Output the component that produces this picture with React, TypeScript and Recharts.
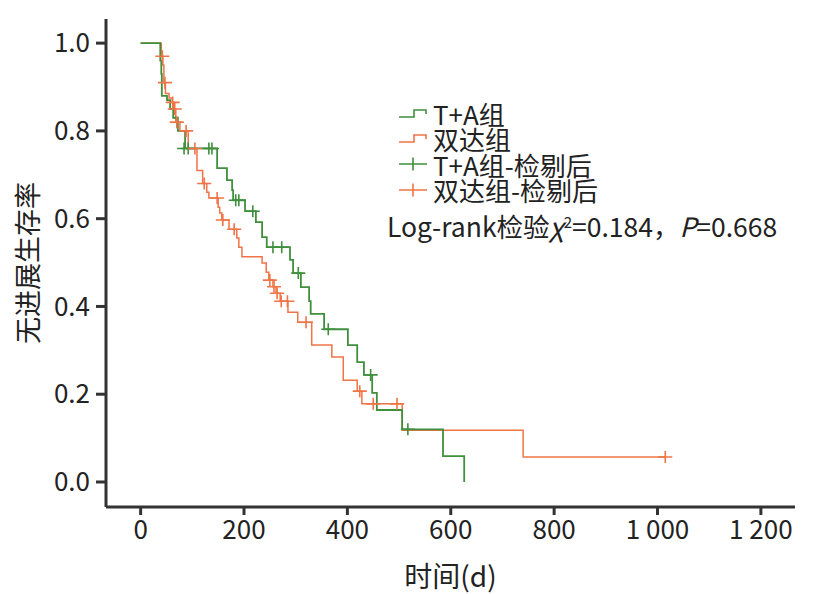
import React from 'react';
import { ComposedChart, Line, Scatter, XAxis, YAxis, Legend } from 'recharts';

const FONT = '"Noto Sans CJK SC", "Noto Sans", sans-serif';
const GREEN = '#3f8f3c';
const ORANGE = '#f07447';
const AXIS = '#333333';

// T+A组 KM steps
const greenTimes = [0, 38, 40, 41, 51, 57, 63, 72, 86, 148, 167, 177, 179, 202, 223, 235, 244, 289, 295, 310, 326, 329, 355, 401, 419, 432, 448, 457, 506, 585, 626];
const greenSurv = [1, 0.96, 0.93, 0.88, 0.87, 0.85, 0.83, 0.8, 0.76, 0.715, 0.688, 0.665, 0.642, 0.617, 0.592, 0.558, 0.535, 0.506, 0.476, 0.444, 0.412, 0.383, 0.348, 0.312, 0.273, 0.244, 0.203, 0.164, 0.12, 0.059, 0];
// T+A组 censored
const greenCensorTimes = [84, 92, 132, 138, 184, 190, 217, 256, 273, 305, 363, 445, 517];
const greenCensorSurv = [0.76, 0.76, 0.76, 0.76, 0.642, 0.642, 0.617, 0.535, 0.535, 0.476, 0.348, 0.244, 0.12];

// 双达组 KM steps
const orangeTimes = [0, 40, 43, 45, 48, 55, 61, 64, 68, 76, 92, 109, 120, 128, 132, 150, 153, 157, 171, 186, 190, 196, 235, 243, 248, 256, 262, 270, 285, 304, 331, 370, 392, 419, 428, 506, 740, 1015];
const orangeSurv = [1, 0.97, 0.95, 0.91, 0.885, 0.875, 0.865, 0.85, 0.82, 0.8, 0.76, 0.71, 0.68, 0.66, 0.647, 0.626, 0.613, 0.597, 0.576, 0.556, 0.535, 0.513, 0.499, 0.478, 0.46, 0.445, 0.43, 0.412, 0.387, 0.364, 0.312, 0.285, 0.232, 0.207, 0.178, 0.118, 0.057, 0.057];
// 双达组 censored
const orangeCensorTimes = [42, 47, 62, 66, 70, 88, 105, 123, 148, 159, 181, 250, 258, 264, 272, 284, 320, 424, 450, 496, 1015];
const orangeCensorSurv = [0.97, 0.91, 0.865, 0.85, 0.82, 0.8, 0.76, 0.68, 0.647, 0.597, 0.576, 0.46, 0.445, 0.43, 0.412, 0.412, 0.364, 0.207, 0.178, 0.178, 0.057];

const xTicks = [0, 200, 400, 600, 800, 1000, 1200];
const yTicks = [0, 0.2, 0.4, 0.6, 0.8, 1.0];

const legendNames = ['T+A组', '双达组', 'T+A组-检剔后', '双达组-检剔后'];
const statText = { prefix: 'Log-rank检验', chi: 'χ', rest: '=0.184，', p: 'P', pval: '=0.668' };

const zip = (t: number[], s: number[]) => t.map((v, i) => ({ t: v, s: s[i] }));
const greenData = zip(greenTimes, greenSurv);
const orangeData = zip(orangeTimes, orangeSurv);
const greenCensor = zip(greenCensorTimes, greenCensorSurv);
const orangeCensor = zip(orangeCensorTimes, orangeCensorSurv);

const makeCross = (color: string) => (props: any) => {
  const { cx, cy } = props;
  if (cx == null || cy == null) return <g />;
  return (
    <path
      d={`M${cx - 7},${cy}H${cx + 7}M${cx},${cy - 6}V${cy + 6}`}
      stroke={color}
      strokeWidth={1.6}
      fill="none"
    />
  );
};

const fmtX = (v: number) => (v >= 1000 ? `${Math.floor(v / 1000)} ${String(v % 1000).padStart(3, '0')}` : String(v));

const StepIcon = ({ color }: { color: string }) => (
  <svg width={30} height={14} style={{ display: 'block' }}>
    <path d="M1,10 H16 V3 H28 V7" stroke={color} strokeWidth={1.6} fill="none" />
  </svg>
);
const CrossIcon = ({ color }: { color: string }) => (
  <svg width={30} height={14} style={{ display: 'block' }}>
    <path d="M1,7 H29 M15,0.5 V13.5" stroke={color} strokeWidth={1.6} fill="none" />
  </svg>
);

const LegendContent = () => {
  const icons = [
    <StepIcon color={GREEN} />,
    <StepIcon color={ORANGE} />,
    <CrossIcon color={GREEN} />,
    <CrossIcon color={ORANGE} />,
  ];
  return (
    <div style={{ fontFamily: FONT, color: '#222', fontSize: 26 }}>
      <div style={{ marginLeft: 11 }}>
        {legendNames.map((n, i) => (
          <div key={n} style={{ display: 'flex', alignItems: 'center', height: 25.4, overflow: 'visible' }}>
            <div style={{ width: 35, flex: 'none' }}>{icons[i]}</div>
            <span style={{ lineHeight: '25.4px', whiteSpace: 'nowrap' }}>{n}</span>
          </div>
        ))}
      </div>
      <div style={{ marginTop: 9, fontSize: 26.5, whiteSpace: 'nowrap', lineHeight: '28px' }}>
        {statText.prefix}
        <i>{statText.chi}</i>
        <sup style={{ fontSize: 15, verticalAlign: 'top', lineHeight: '20px' }}>2</sup>
        {statText.rest}
        <i>{statText.p}</i>
        {statText.pval}
      </div>
    </div>
  );
};

export default function App() {
  return (
    <div style={{ width: 807, height: 586, position: 'relative' }}>
      <ComposedChart width={807} height={586} margin={{ top: 11, right: 20, bottom: 0, left: 0 }}>
        <XAxis
          type="number"
          dataKey="t"
          domain={[-67, 1266]}
          allowDataOverflow
          ticks={xTicks}
          tickFormatter={fmtX}
          height={87}
          axisLine={{ stroke: AXIS, strokeWidth: 3 }}
          tickLine={{ stroke: AXIS, strokeWidth: 3 }}
          tickSize={8}
          tickMargin={6}
          tick={{ fontSize: 26, fill: '#222', fontFamily: FONT }}
          label={{ value: '时间(d)', position: 'insideBottom', offset: 7, fontSize: 28, fill: '#222', fontFamily: FONT }}
        />
        <YAxis
          type="number"
          dataKey="s"
          domain={[-0.057, 1.055]}
          allowDataOverflow
          ticks={yTicks}
          tickFormatter={(v: number) => v.toFixed(1)}
          width={98}
          axisLine={{ stroke: AXIS, strokeWidth: 3 }}
          tickLine={{ stroke: AXIS, strokeWidth: 3 }}
          tickSize={10}
          tickMargin={6}
          tick={{ fontSize: 26, fill: '#222', fontFamily: FONT }}
          label={{ value: '无进展生存率', angle: -90, position: 'insideLeft', offset: 20, fontSize: 27, fill: '#222', fontFamily: FONT, style: { textAnchor: 'middle' } }}
        />
        <Legend
          layout="horizontal"
          verticalAlign="middle"
          align="center"
          content={LegendContent}
          wrapperStyle={{ position: 'absolute', left: 379, top: 93, width: 420, height: 160 }}
        />
        <Line data={orangeData} dataKey="s" type="stepAfter" stroke={ORANGE} strokeWidth={1.5} dot={false} isAnimationActive={false} name="双达组" />
        <Line data={greenData} dataKey="s" type="stepAfter" stroke={GREEN} strokeWidth={1.8} dot={false} isAnimationActive={false} name="T+A组" />
        <Scatter data={greenCensor} dataKey="s" shape={makeCross(GREEN)} isAnimationActive={false} name="T+A组-检剔后" />
        <Scatter data={orangeCensor} dataKey="s" shape={makeCross(ORANGE)} isAnimationActive={false} name="双达组-检剔后" />
      </ComposedChart>
    </div>
  );
}
